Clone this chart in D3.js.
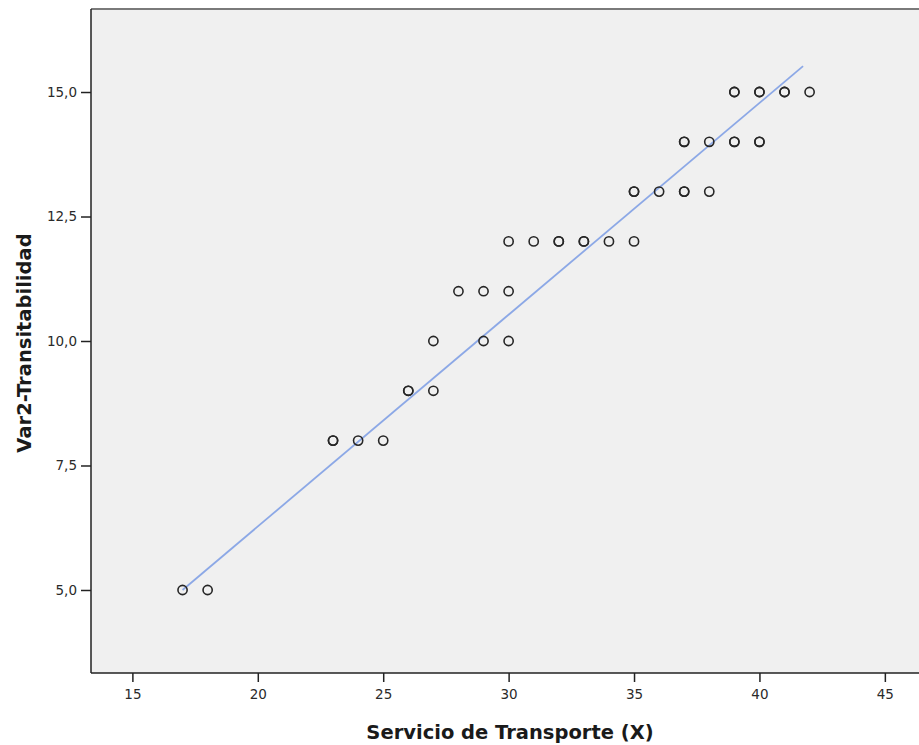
<!DOCTYPE html>
<html>
<head>
<meta charset="utf-8">
<script src="https://cdn.jsdelivr.net/npm/d3@7"></script>
<style>
  body { margin: 0; background: #fff; }
  svg { display: block; }
</style>
</head>
<body>
<svg id="chart" width="919" height="745"></svg>
<script>
// Data (duplicates reflect overlapping observations)
const xValues = [17, 18, 23, 23, 24, 25, 26, 26, 27, 27, 29, 30, 28, 29, 30,
  30, 31, 32, 32, 33, 33, 34, 35, 35, 35, 36, 37, 37, 38,
  37, 37, 38, 39, 39, 40, 40, 39, 39, 40, 40, 41, 41, 42];
const yValues = [5, 5, 8, 8, 8, 8, 9, 9, 9, 10, 10, 10, 11, 11, 11,
  12, 12, 12, 12, 12, 12, 12, 12, 13, 13, 13, 13, 13, 13,
  14, 14, 14, 14, 14, 14, 14, 15, 15, 15, 15, 15, 15, 15];
const fitLineX = [17, 41.74];
const fitSlope = 0.4252;
const fitIntercept = -2.228;
const xTicks = [15, 20, 25, 30, 35, 40, 45];
const yTicks = [5, 7.5, 10, 12.5, 15];
const xTitle = "Servicio de Transporte (X)";
const yTitle = "Var2-Transitabilidad";

const svg = d3.select("#chart");
const pLeft = 91, pTop = 9, pBottom = 673, pRight = 930;

const x = d3.scaleLinear().domain([13.35, 46.8]).range([pLeft, pRight]);
const y = d3.scaleLinear().domain([3.333, 16.667]).range([pBottom, pTop]);

svg.append("rect")
  .attr("x", pLeft).attr("y", pTop)
  .attr("width", pRight - pLeft).attr("height", pBottom - pTop)
  .attr("fill", "#f0f0f0");

// Frame
svg.append("line").attr("x1", pLeft).attr("x2", pRight).attr("y1", pTop).attr("y2", pTop)
  .attr("stroke", "#7a7a7a").attr("stroke-width", 2);
svg.append("line").attr("x1", pLeft).attr("x2", pLeft).attr("y1", pTop).attr("y2", pBottom)
  .attr("stroke", "#222").attr("stroke-width", 1.5);
svg.append("line").attr("x1", pLeft).attr("x2", pRight).attr("y1", pBottom).attr("y2", pBottom)
  .attr("stroke", "#222").attr("stroke-width", 1.5);

const fmt = d => d3.format(".1f")(d).replace(".", ",");

const xAxis = svg.append("g")
  .attr("transform", `translate(0,${pBottom})`)
  .call(d3.axisBottom(x).tickValues(xTicks).tickSize(9).tickPadding(7).tickFormat(d3.format("d")));
const yAxis = svg.append("g")
  .attr("transform", `translate(${pLeft},0)`)
  .call(d3.axisLeft(y).tickValues(yTicks).tickSize(10).tickPadding(4).tickFormat(fmt));

[xAxis, yAxis].forEach(a => {
  a.select(".domain").remove();
  a.selectAll(".tick line").attr("stroke", "#222").attr("stroke-width", 1.5);
  a.selectAll(".tick text")
    .attr("fill", "#2a2a2a")
    .style("font-family", "'DejaVu Sans', sans-serif")
    .style("font-size", "13.5px");
});

// Fit line
svg.append("line")
  .attr("x1", x(fitLineX[0])).attr("y1", y(fitIntercept + fitSlope * fitLineX[0]))
  .attr("x2", x(fitLineX[1])).attr("y2", y(fitIntercept + fitSlope * fitLineX[1]))
  .attr("stroke", "#8ca8e6").attr("stroke-width", 1.8);

// Points
svg.append("g").selectAll("circle")
  .data(xValues.map((v, i) => [v, yValues[i]]))
  .join("circle")
  .attr("cx", d => x(d[0]))
  .attr("cy", d => y(d[1]))
  .attr("r", 4.6)
  .attr("fill", "none")
  .attr("stroke", "#262626")
  .attr("stroke-width", 1.6);

// Titles
svg.append("text")
  .attr("x", 510).attr("y", 739)
  .attr("text-anchor", "middle")
  .attr("fill", "#1a1a1a")
  .style("font-family", "'DejaVu Sans', sans-serif")
  .style("font-weight", "bold")
  .style("font-size", "19.5px")
  .text(xTitle);

svg.append("text")
  .attr("transform", "translate(31,343) rotate(-90)")
  .attr("text-anchor", "middle")
  .attr("fill", "#1a1a1a")
  .style("font-family", "'DejaVu Sans', sans-serif")
  .style("font-weight", "bold")
  .style("font-size", "19.5px")
  .text(yTitle);
</script>
</body>
</html>
